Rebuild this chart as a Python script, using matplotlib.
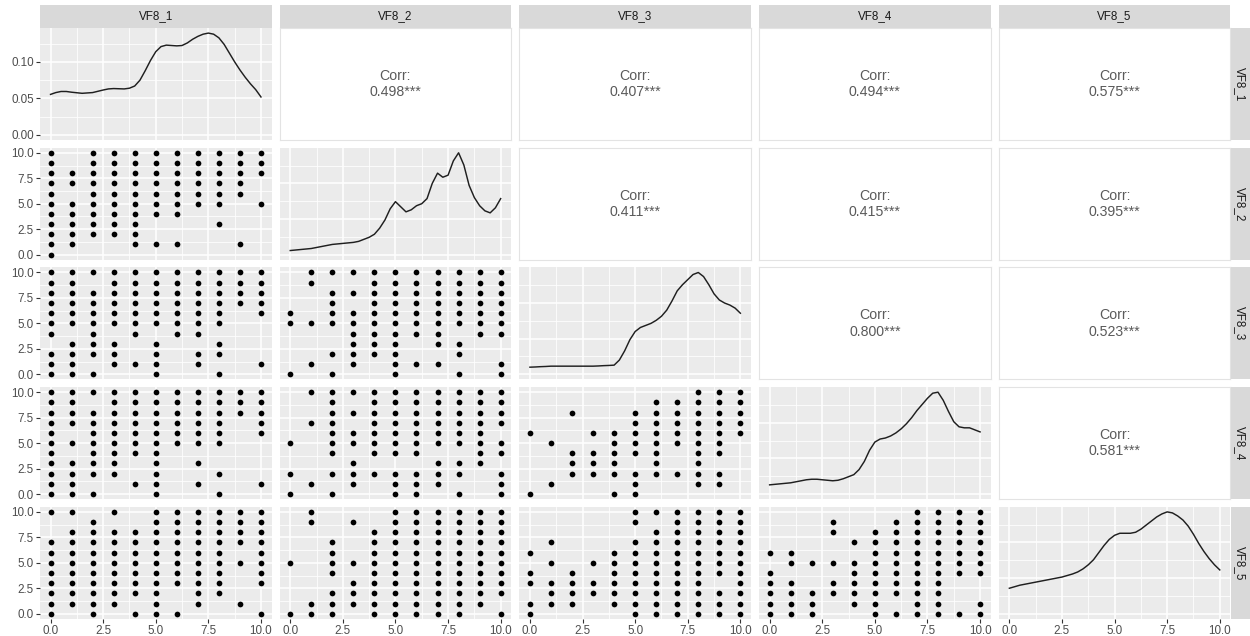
import matplotlib
matplotlib.use("Agg")
import matplotlib.pyplot as plt
from matplotlib.ticker import FixedLocator

# ---------------- data ----------------
variables = ["VF8_1", "VF8_2", "VF8_3", "VF8_4", "VF8_5"]
scale_ticks = [0.0, 2.5, 5.0, 7.5, 10.0]
scale_labels = ["0.0", "2.5", "5.0", "7.5", "10.0"]
dens_ticks = [0.00, 0.05, 0.10]
dens_labels = ["0.00", "0.05", "0.10"]

# correlations (upper triangle)
corr_1_2 = "0.498***"
corr_1_3 = "0.407***"
corr_1_4 = "0.494***"
corr_1_5 = "0.575***"
corr_2_3 = "0.411***"
corr_2_4 = "0.415***"
corr_2_5 = "0.395***"
corr_3_4 = "0.800***"
corr_3_5 = "0.523***"
corr_4_5 = "0.581***"

# density curves on the diagonal
dens1_x = [0, 0.25, 0.5, 0.75, 1, 1.5, 2, 2.5, 2.75, 3, 3.5, 3.75, 4, 4.25, 4.5, 4.75, 5, 5.25,
           5.5, 5.75, 6, 6.25, 6.5, 6.75, 7, 7.25, 7.5, 7.75, 8, 8.25, 8.5, 8.75, 9, 9.25, 9.5,
           9.75, 10]
dens1_y = [0.0555, 0.058, 0.0595, 0.0595, 0.0585, 0.057, 0.058, 0.0615, 0.063, 0.0635, 0.063,
           0.064, 0.067, 0.075, 0.088, 0.102, 0.114, 0.121, 0.123, 0.1225, 0.122, 0.1225, 0.126,
           0.131, 0.135, 0.138, 0.1395, 0.138, 0.133, 0.124, 0.112, 0.100, 0.089, 0.079, 0.070,
           0.062, 0.052]
dens_x = [0, 0.25, 0.5, 0.75, 1, 1.25, 1.5, 1.75, 2, 2.25, 2.5, 2.75, 3, 3.25, 3.5, 3.75, 4,
          4.25, 4.5, 4.75, 5, 5.25, 5.5, 5.75, 6, 6.25, 6.5, 6.75, 7, 7.25, 7.5, 7.75, 8, 8.25,
          8.5, 8.75, 9, 9.25, 9.5, 9.75, 10]
dens2_y = [0.04, 0.045, 0.05, 0.055, 0.06, 0.07, 0.08, 0.09, 0.10, 0.105, 0.11, 0.115, 0.12, 0.13,
           0.15, 0.17, 0.20, 0.26, 0.34, 0.45, 0.52, 0.47, 0.42, 0.44, 0.48, 0.50, 0.55, 0.70, 0.80,
           0.76, 0.78, 0.92, 1.00, 0.88, 0.68, 0.56, 0.48, 0.43, 0.41, 0.46, 0.55]
dens3_y = [0.07, 0.072, 0.075, 0.077, 0.08, 0.08, 0.08, 0.08, 0.08, 0.08, 0.08, 0.08, 0.08, 0.082,
           0.085, 0.087, 0.09, 0.14, 0.23, 0.34, 0.42, 0.46, 0.48, 0.50, 0.53, 0.57, 0.63, 0.72, 0.82,
           0.88, 0.93, 0.98, 1.00, 0.96, 0.88, 0.79, 0.73, 0.70, 0.68, 0.65, 0.60]
dens4_y = [0.09, 0.095, 0.10, 0.105, 0.11, 0.12, 0.13, 0.14, 0.145, 0.145, 0.14, 0.135, 0.13, 0.135,
           0.15, 0.17, 0.19, 0.24, 0.32, 0.43, 0.51, 0.54, 0.55, 0.57, 0.60, 0.64, 0.69, 0.75, 0.82,
           0.88, 0.94, 0.99, 1.00, 0.92, 0.81, 0.71, 0.66, 0.65, 0.65, 0.63, 0.61]
dens5_y = [0.25, 0.265, 0.28, 0.29, 0.30, 0.31, 0.32, 0.33, 0.34, 0.35, 0.36, 0.375, 0.39, 0.41,
           0.44, 0.48, 0.53, 0.60, 0.67, 0.73, 0.77, 0.79, 0.79, 0.79, 0.80, 0.83, 0.87, 0.91, 0.95,
           0.98, 1.00, 0.99, 0.96, 0.92, 0.86, 0.78, 0.69, 0.61, 0.54, 0.48, 0.43]

# scatter panels: for each x value 0..10, the y values present
pts_2_1 = [[10, 9, 8, 7, 6, 5, 4, 3, 2, 1, 0], [8, 7, 5, 4, 3, 2, 1], [10, 9, 8, 7, 6, 5, 4, 3, 2],
           [10, 9, 8, 7, 6, 5, 4, 3, 2], [10, 9, 8, 7, 6, 5, 4, 3, 2, 1], [10, 9, 8, 7, 6, 5, 4, 1],
           [10, 9, 8, 7, 6, 5, 4, 1], [10, 9, 8, 7, 6, 5], [10, 9, 8, 7, 6, 5, 3], [10, 9, 8, 7, 6, 1],
           [10, 9, 8, 5]]
pts_3_1 = [[10, 9, 8, 7, 6, 5, 4, 2, 1, 0], [10, 9, 8, 7, 6, 5, 3, 2, 1, 0], [10, 8, 7, 6, 5, 4, 3, 2, 0],
           [10, 9, 8, 7, 6, 5, 3, 2, 1], [10, 9, 8, 7, 6, 5, 4, 1], [10, 9, 8, 7, 6, 5, 3, 2, 1, 0],
           [10, 9, 8, 7, 6, 5, 4], [10, 9, 8, 7, 6, 5, 4, 2, 1], [10, 9, 8, 7, 6, 5, 3, 2, 0],
           [10, 9, 8, 7], [10, 9, 8, 7, 6, 1]]
pts_3_2 = [[6, 5, 0], [10, 9, 5, 1], [10, 8, 7, 6, 5, 2, 0], [10, 8, 6, 5, 4, 3, 2, 1],
           [10, 9, 8, 7, 6, 5, 4, 3, 2], [10, 9, 8, 7, 6, 5, 4, 3, 2, 1, 0], [10, 9, 8, 7, 6, 5, 4, 1],
           [10, 9, 8, 7, 6, 5, 4, 3, 1], [10, 9, 8, 7, 6, 5, 3, 2, 0], [10, 9, 8, 7, 6, 5, 4],
           [10, 9, 8, 7, 6, 5, 4, 1, 0]]
pts_4_1 = [[10, 9, 8, 7, 6, 5, 4, 3, 2, 1, 0], [10, 9, 8, 7, 5, 3, 2, 1, 0], [10, 8, 7, 6, 5, 4, 3, 2, 0],
           [10, 9, 8, 7, 6, 5, 4, 3, 2], [10, 9, 8, 7, 6, 5, 4, 1], [10, 9, 8, 7, 6, 5, 4, 3, 2, 1, 0],
           [10, 9, 8, 7, 6, 5], [10, 9, 8, 7, 6, 5, 3, 1], [10, 9, 8, 7, 6, 5, 2, 0], [10, 9, 8],
           [10, 9, 8, 7, 6, 1]]
pts_4_2 = [[5, 2, 0], [10, 7, 1], [10, 9, 8, 7, 6, 5, 4, 2, 0], [10, 8, 6, 5, 3, 2, 1],
           [10, 9, 8, 7, 6, 5, 4, 2], [10, 9, 8, 7, 6, 5, 4, 2, 1, 0], [10, 9, 8, 7, 6, 5, 4, 2, 1, 0],
           [10, 9, 8, 7, 6, 5, 3, 2, 1], [10, 9, 8, 7, 6, 5, 3, 2, 0], [10, 9, 8, 7, 6, 5, 4, 3],
           [10, 9, 8, 7, 5, 4, 2, 1, 0]]
pts_4_3 = [[6, 0], [5, 1], [8, 4, 3, 2], [6, 4, 3, 2], [6, 5, 4, 3, 2, 0], [8, 7, 6, 5, 4, 2, 1, 0],
           [9, 8, 7, 6, 5, 4, 3, 2], [9, 8, 7, 6, 5, 2], [10, 9, 8, 7, 6, 5, 4, 3, 2, 1],
           [10, 9, 8, 7, 6, 5, 4, 2, 1], [10, 9, 8, 7, 6]]
pts_5_1 = [[10, 7, 6, 5, 4, 3, 2, 1, 0], [10, 8, 7, 6, 5, 4, 3, 2, 1], [9, 8, 7, 6, 5, 4, 3, 2, 1, 0],
           [10, 8, 7, 6, 5, 4, 3, 2, 1], [8, 7, 6, 5, 4, 3, 2, 0], [10, 9, 8, 7, 6, 5, 4, 3, 2, 1, 0],
           [10, 9, 8, 7, 6, 5, 4, 3, 0], [10, 9, 8, 7, 6, 5, 4, 3, 2, 1], [10, 9, 8, 7, 6, 5, 4, 3, 2],
           [10, 9, 8, 7, 5, 1], [10, 9, 8, 7, 6, 5, 4, 3, 0]]
pts_5_2 = [[5, 0], [10, 9, 1, 0], [7, 6, 5, 4, 2, 1, 0], [9, 5, 3, 2, 1], [8, 7, 6, 5, 4, 3, 2, 1, 0],
           [10, 9, 8, 7, 6, 5, 4, 3, 2, 1, 0], [10, 9, 8, 7, 6, 5, 4, 3, 2, 1, 0],
           [10, 9, 8, 7, 6, 5, 4, 3, 2, 1, 0], [10, 9, 8, 7, 6, 5, 4, 3, 2, 1, 0],
           [10, 9, 8, 7, 6, 5, 4, 3, 2, 1], [10, 9, 8, 7, 6, 5, 4, 3, 2, 0]]
pts_5_3 = [[6, 4, 3, 1, 0], [7, 5, 3, 2, 1], [4, 3, 2, 1], [5, 3, 2], [6, 5, 4, 3, 2, 1],
           [10, 9, 7, 6, 5, 4, 3, 2, 1, 0], [10, 8, 7, 6, 5, 4, 3, 2, 1, 0],
           [10, 9, 8, 7, 6, 5, 4, 3, 2, 1, 0], [10, 9, 8, 7, 6, 5, 4, 3, 2, 1, 0],
           [10, 9, 8, 7, 6, 5, 4, 2, 1, 0], [10, 9, 8, 7, 6, 5, 4, 3, 2, 1, 0]]
pts_5_4 = [[6, 4, 3, 2, 1, 0], [6, 5, 3, 2, 1, 0], [5, 2, 1, 0], [9, 8, 5, 3, 2], [7, 5, 4, 3, 2, 1],
           [8, 7, 6, 5, 4, 3, 2, 1, 0], [9, 8, 7, 6, 5, 4, 3, 2, 0], [10, 9, 8, 7, 6, 5, 4, 3, 2, 1, 0],
           [10, 9, 8, 7, 6, 5, 4, 3, 2, 1, 0], [10, 9, 8, 7, 6, 5, 4, 0], [10, 9, 8, 7, 6, 5, 4, 1, 0]]

scatter_panels = {(2, 1): pts_2_1, (3, 1): pts_3_1, (3, 2): pts_3_2, (4, 1): pts_4_1, (4, 2): pts_4_2,
                  (4, 3): pts_4_3, (5, 1): pts_5_1, (5, 2): pts_5_2, (5, 3): pts_5_3, (5, 4): pts_5_4}
corr_panels = {(1, 2): corr_1_2, (1, 3): corr_1_3, (1, 4): corr_1_4, (1, 5): corr_1_5,
               (2, 3): corr_2_3, (2, 4): corr_2_4, (2, 5): corr_2_5, (3, 4): corr_3_4,
               (3, 5): corr_3_5, (4, 5): corr_4_5}
dens_panels = {1: (dens1_x, dens1_y), 2: (dens_x, dens2_y), 3: (dens_x, dens3_y),
               4: (dens_x, dens4_y), 5: (dens_x, dens5_y)}

# ---------------- layout ----------------
W, H = 1250, 636
FONT = "Liberation Sans"
plt.rcParams["font.family"] = [FONT, "DejaVu Sans"]
fig = plt.figure(figsize=(W / 100, H / 100), dpi=100)
fig.patch.set_facecolor("white")

col_x = [40.0, 279.7, 519.4, 759.1, 998.8]
row_y = [28.0, 147.7, 267.4, 387.1, 506.8]
PW, PH = 231.5, 112.0
STRIP_TOP = 5.0
STRIP_R = 19.0

BG = "#EBEBEB"
TXT = "#4D4D4D"
TICKC = "#333333"
TICKFS = 8.4


def rect(x0, y0, w, h):
    return [x0 / W, 1 - (y0 + h) / H, w / W, h / H]


def style_grid(ax, xmaj, xmin, ymaj, ymin):
    ax.set_facecolor(BG)
    for s in ax.spines.values():
        s.set_visible(False)
    ax.xaxis.set_major_locator(FixedLocator(xmaj))
    ax.xaxis.set_minor_locator(FixedLocator(xmin))
    ax.yaxis.set_major_locator(FixedLocator(ymaj))
    ax.yaxis.set_minor_locator(FixedLocator(ymin))
    ax.grid(True, which="major", color="white", linewidth=1.1)
    ax.grid(True, which="minor", color="white", linewidth=0.55)
    ax.set_axisbelow(True)
    ax.tick_params(which="minor", length=0)
    ax.tick_params(which="major", length=0, labelleft=False, labelbottom=False)


xmaj = scale_ticks
xmin = [1.25, 3.75, 6.25, 8.75]

for r in range(1, 6):
    for c in range(1, 6):
        ax = fig.add_axes(rect(col_x[c - 1], row_y[r - 1], PW, PH))
        if (r, c) in corr_panels:
            ax.set_facecolor("white")
            ax.set_xticks([])
            ax.set_yticks([])
            for s in ax.spines.values():
                s.set_color("#E3E3E3")
                s.set_linewidth(0.8)
            ax.set_xlim(0, 1)
            ax.set_ylim(0, 1)
            ax.text(0.5, 0.5, "Corr:\n" + corr_panels[(r, c)], ha="center", va="center",
                    fontsize=10.2, color="#5A5A5A", linespacing=1.2, family=FONT)
            continue
        if r == c:
            dx, dy = dens_panels[r]
            ax.plot(dx, dy, color="#1F1F1F", linewidth=1.05, solid_joinstyle="round")
            ax.set_xlim(-0.5, 10.5)
            top = max(dy)
            ax.set_ylim(-0.05 * top, 1.05 * top)
            if r == 1:
                ymaj = dens_ticks
                ymin = [0.025, 0.075, 0.125]
            else:
                ymaj = [0.0, 0.35, 0.70]
                ymin = [0.175, 0.525, 0.875]
            style_grid(ax, xmaj, xmin, ymaj, ymin)
        else:
            pts = scatter_panels[(r, c)]
            xs, ys = [], []
            for xv, ylist in enumerate(pts):
                for yv in ylist:
                    xs.append(xv)
                    ys.append(yv)
            ax.scatter(xs, ys, s=17, color="black", linewidths=0, zorder=3)
            ax.set_xlim(-0.5, 10.5)
            ax.set_ylim(-0.5, 10.5)
            style_grid(ax, xmaj, xmin, scale_ticks, xmin)
        # axis labels on outer panels
        if c == 1:
            ax.tick_params(which="major", axis="y", length=3, width=0.8, color=TICKC,
                           labelleft=True, labelsize=TICKFS, labelcolor=TXT, pad=1.5)
            if r == 1:
                ax.set_yticklabels(dens_labels)
            else:
                ax.set_yticklabels(scale_labels)
        if r == 5:
            ax.tick_params(which="major", axis="x", length=3, width=0.8, color=TICKC,
                           labelbottom=True, labelsize=TICKFS, labelcolor=TXT, pad=1.5)
            ax.set_xticklabels(scale_labels)

# strips on top
for c in range(1, 6):
    sx = fig.add_axes(rect(col_x[c - 1], STRIP_TOP, PW, row_y[0] - STRIP_TOP))
    sx.set_facecolor("#D9D9D9")
    sx.set_xticks([])
    sx.set_yticks([])
    for s in sx.spines.values():
        s.set_visible(False)
    sx.text(0.5, 0.5, variables[c - 1], ha="center", va="center", fontsize=TICKFS,
            color="#1A1A1A", transform=sx.transAxes)

# strips on the right
for r in range(1, 6):
    sy = fig.add_axes(rect(col_x[4] + PW + 0.5, row_y[r - 1], STRIP_R, PH))
    sy.set_facecolor("#D9D9D9")
    sy.set_xticks([])
    sy.set_yticks([])
    for s in sy.spines.values():
        s.set_visible(False)
    sy.text(0.5, 0.5, variables[r - 1], ha="center", va="center", fontsize=TICKFS,
            color="#1A1A1A", rotation=-90, transform=sy.transAxes)

fig.savefig("out.png", dpi=100, facecolor="white")
